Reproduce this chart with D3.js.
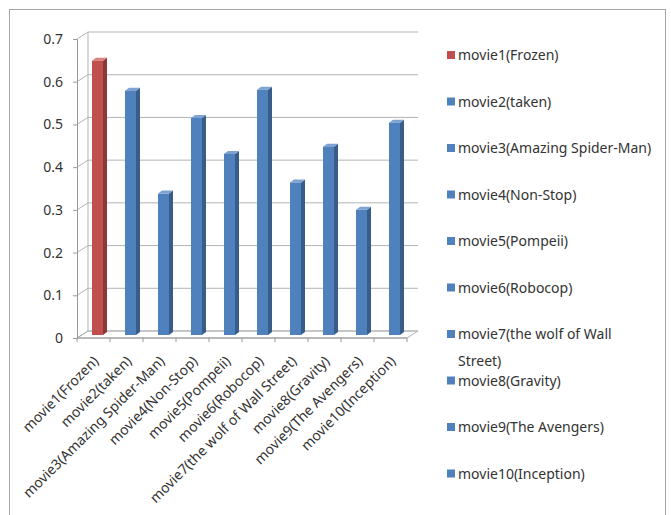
<!DOCTYPE html>
<html>
<head>
<meta charset="utf-8">
<script src="https://cdn.jsdelivr.net/npm/d3@7"></script>
<style>
  body { margin: 0; background: #fff; }
  text { font-family: "Noto Sans", sans-serif; fill: #333; }
</style>
</head>
<body>
<svg id="chart" width="671" height="515"></svg>
<script>
"use strict";
const movies = ['movie1(Frozen)', 'movie2(taken)', 'movie3(Amazing Spider-Man)', 'movie4(Non-Stop)',
    'movie5(Pompeii)', 'movie6(Robocop)', 'movie7(the wolf of Wall Street)', 'movie8(Gravity)',
    'movie9(The Avengers)', 'movie10(Inception)'];
const scores = [0.642, 0.572, 0.331, 0.508, 0.424, 0.574, 0.357, 0.441, 0.293, 0.497];
const yTicks = [0, 0.1, 0.2, 0.3, 0.4, 0.5, 0.6, 0.7];

const colours = { face: '#4f81bd', side: '#385d8a', top: '#7ea3d3' };
const redColours = { face: '#c0504d', side: '#8c3836', top: '#d8817f' };
const colourOf = i => i === 0 ? redColours : colours;

const svg = d3.select('#chart');

// outer frame
svg.append('rect')
    .attr('x', 9.5).attr('y', 9.5)
    .attr('width', 656).attr('height', 520)
    .attr('fill', 'none').attr('stroke', '#a6a6a6');

const depthX = 11, depthY = -7;
const x = d3.scaleBand().domain(movies).range([77, 407]);
const y = d3.scaleLinear().domain([0, 0.7]).range([338, 39]);
const yBar = d3.scaleLinear().domain([0, 0.7]).range([335, 36]);

const grid = svg.append('g').attr('stroke', '#b3b3b3').attr('fill', 'none');

// floor
grid.append('path')
    .attr('d', `M${x.range()[0]},${y(0)}L${x.range()[1]},${y(0)}L${x.range()[1] + depthX},${y(0) + depthY}L${x.range()[0] + depthX},${y(0) + depthY}Z`);

// side wall + back wall gridlines
yTicks.forEach(t => {
    grid.append('path')
        .attr('d', `M${x.range()[0]},${y(t)}L${x.range()[0] + depthX},${y(t) + depthY}L${x.range()[1] + depthX},${y(t) + depthY}`);
});
grid.append('line')
    .attr('x1', x.range()[0] + depthX).attr('x2', x.range()[0] + depthX)
    .attr('y1', y(0) + depthY).attr('y2', y(0.7) + depthY);

// y axis
const yAxis = svg.append('g')
    .attr('transform', `translate(${x.range()[0]},0)`)
    .call(d3.axisLeft(y).tickValues(yTicks).tickFormat(d => d === 0 ? '0' : d3.format('.1f')(d)).tickSize(4).tickPadding(10));
yAxis.select('.domain').attr('stroke', '#999');
yAxis.selectAll('.tick line').attr('stroke', '#999');
yAxis.selectAll('.tick text').attr('font-size', 14).attr('fill', '#333').style('font-family', '"Noto Sans", sans-serif');

// category ticks along front floor edge
const bounds = movies.map(m => x(m)).concat([x.range()[1]]);
svg.append('g').selectAll('line')
    .data(bounds)
    .join('line')
    .attr('x1', d => d).attr('x2', d => d)
    .attr('y1', y(0)).attr('y2', y(0) + 4)
    .attr('stroke', '#999');
svg.append('line')
    .attr('x1', x.range()[0]).attr('x2', x.range()[1])
    .attr('y1', y(0)).attr('y2', y(0))
    .attr('stroke', '#999');

// 3d bars
const barOffset = 15, barWidth = 11, barDX = 4, barDY = -3;
const bars = svg.append('g').selectAll('g')
    .data(scores)
    .join('g');

bars.append('path')
    .attr('fill', (d, i) => colourOf(i).side)
    .attr('d', (d, i) => {
        const x1 = x(movies[i]) + barOffset + barWidth;
        return `M${x1},${yBar(0)}L${x1},${yBar(d)}L${x1 + barDX},${yBar(d) + barDY}L${x1 + barDX},${yBar(0) + barDY}Z`;
    });
bars.append('path')
    .attr('fill', (d, i) => colourOf(i).top)
    .attr('d', (d, i) => {
        const x0 = x(movies[i]) + barOffset;
        return `M${x0},${yBar(d)}L${x0 + barWidth},${yBar(d)}L${x0 + barWidth + barDX},${yBar(d) + barDY}L${x0 + barDX},${yBar(d) + barDY}Z`;
    });
bars.append('rect')
    .attr('x', (d, i) => x(movies[i]) + barOffset)
    .attr('y', d => yBar(d))
    .attr('width', barWidth)
    .attr('height', d => yBar(0) - yBar(d))
    .attr('fill', (d, i) => colourOf(i).face);

// rotated category labels
svg.append('g').selectAll('text')
    .data(movies)
    .join('text')
    .attr('transform', d => `translate(${x(d) + x.bandwidth() / 2 + 6},${y(0) + 24}) rotate(-45)`)
    .attr('text-anchor', 'end')
    .attr('font-size', 14)
    .text(d => d);

// legend
const legendTop = 55, legendStep = 46.5;
const legend = svg.append('g').selectAll('g')
    .data(movies)
    .join('g')
    .attr('transform', (d, i) => `translate(447,${legendTop + i * legendStep})`);
legend.append('rect')
    .attr('x', 0).attr('y', -4)
    .attr('width', 8).attr('height', 8)
    .attr('fill', (d, i) => colourOf(i).face);
legend.append('text')
    .attr('x', 11).attr('y', 5)
    .attr('font-size', 14)
    .each(function (d) {
        const t = d3.select(this);
        if (d.indexOf('Wall Street') > 0) {
            const cut = d.indexOf('Street');
            t.append('tspan').attr('x', 11).text(d.slice(0, cut - 1));
            t.append('tspan').attr('x', 11).attr('dy', 27).text(d.slice(cut));
        } else {
            t.text(d);
        }
    });
</script>
</body>
</html>
